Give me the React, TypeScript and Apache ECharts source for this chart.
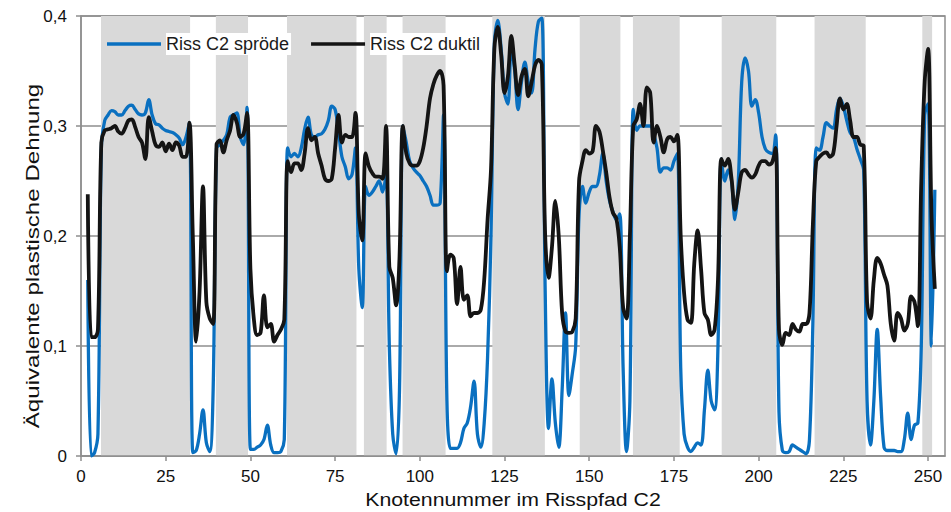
import React, { useEffect, useRef } from "react";
import * as echarts from "echarts";

const firstNode = 2;
const seriesNames = ["Riss C2 spröde", "Riss C2 duktil"];
const xTitle = "Knotennummer im Risspfad C2";
const yTitle = "Äquivalente plastische Dehnung";

// Values per node (node 2 .. 252)
const sproede = [
  0.16, 0.0, 0.003, 0.02, 0.28, 0.305, 0.31, 0.314, 0.313, 0.31,
  0.31, 0.314, 0.318, 0.319, 0.315, 0.311, 0.31, 0.312, 0.324, 0.31,
  0.302, 0.301, 0.298, 0.296, 0.295, 0.294, 0.292, 0.289, 0.283, 0.29,
  0.303, 0.003, 0.005, 0.02, 0.042, 0.012, 0.004, 0.06, 0.28, 0.283,
  0.287, 0.292, 0.308, 0.31, 0.312, 0.29, 0.283, 0.317, 0.006, 0.006,
  0.008, 0.01, 0.015, 0.028, 0.01, 0.003, 0.003, 0.004, 0.015, 0.28,
  0.272, 0.275, 0.272, 0.28, 0.297, 0.308, 0.292, 0.29, 0.292, 0.293,
  0.297, 0.305, 0.318, 0.315, 0.295, 0.272, 0.263, 0.252, 0.256, 0.28,
  0.17, 0.135, 0.245, 0.237, 0.24, 0.245, 0.25, 0.24, 0.255, 0.1,
  0.02, 0.002, 0.06, 0.3, 0.285, 0.268, 0.262, 0.258, 0.255, 0.25,
  0.245, 0.237, 0.228, 0.228, 0.23, 0.31, 0.05, 0.007, 0.007, 0.007,
  0.012, 0.025, 0.03, 0.045, 0.068, 0.02, 0.008, 0.03, 0.09, 0.2,
  0.375, 0.396, 0.37, 0.33, 0.32, 0.372, 0.35, 0.315, 0.34, 0.358,
  0.34, 0.33, 0.37, 0.395, 0.398, 0.15, 0.025, 0.07, 0.03, 0.008,
  0.06, 0.13, 0.055, 0.075, 0.1, 0.22, 0.245, 0.23, 0.24, 0.245,
  0.245, 0.255, 0.275, 0.25, 0.232, 0.222, 0.215, 0.22, 0.08, 0.004,
  0.05, 0.315, 0.296, 0.3, 0.3, 0.3, 0.3, 0.293, 0.28, 0.258,
  0.262, 0.262, 0.26, 0.268, 0.275, 0.08, 0.02, 0.008, 0.004, 0.008,
  0.012, 0.01, 0.042, 0.078, 0.05, 0.042, 0.1, 0.27, 0.25, 0.26,
  0.25, 0.215, 0.25, 0.34, 0.362, 0.35, 0.318, 0.324, 0.312, 0.29,
  0.279, 0.276, 0.275, 0.292, 0.04, 0.005, 0.003, 0.004, 0.01, 0.008,
  0.006, 0.004, 0.002, 0.015, 0.12, 0.28, 0.278, 0.29, 0.303, 0.3,
  0.298, 0.315, 0.325, 0.318, 0.305, 0.294, 0.29, 0.279, 0.27, 0.26,
  0.05, 0.01, 0.05, 0.115, 0.054, 0.008, 0.005, 0.005, 0.005, 0.004,
  0.004, 0.015, 0.039, 0.015, 0.028, 0.03, 0.1, 0.31, 0.32, 0.1,
  0.242,
];

const duktil = [
  0.238, 0.108, 0.108, 0.115, 0.285, 0.296, 0.297, 0.298, 0.3, 0.295,
  0.293, 0.298, 0.305, 0.306, 0.299, 0.29, 0.285, 0.27, 0.308, 0.295,
  0.283, 0.281, 0.285, 0.277, 0.284, 0.278, 0.285, 0.282, 0.272, 0.272,
  0.303, 0.2, 0.104, 0.15, 0.245, 0.14, 0.125, 0.12, 0.283, 0.287,
  0.276, 0.287, 0.296, 0.31, 0.303, 0.29, 0.293, 0.312, 0.17, 0.125,
  0.11, 0.112, 0.146, 0.117, 0.12, 0.104, 0.11, 0.115, 0.124, 0.268,
  0.258, 0.266, 0.266, 0.26, 0.275, 0.298, 0.287, 0.29, 0.275, 0.264,
  0.252, 0.25, 0.252, 0.28, 0.31, 0.285, 0.292, 0.29, 0.29, 0.312,
  0.22, 0.196, 0.275, 0.263, 0.257, 0.254, 0.254, 0.252, 0.3, 0.172,
  0.162, 0.137, 0.18, 0.3, 0.275, 0.266, 0.264, 0.264, 0.268, 0.28,
  0.3, 0.325, 0.338, 0.346, 0.35, 0.337, 0.168, 0.183, 0.18, 0.138,
  0.172, 0.142, 0.146, 0.127, 0.13, 0.13, 0.133, 0.16, 0.215, 0.26,
  0.37, 0.39, 0.365, 0.33, 0.345, 0.382, 0.355, 0.328, 0.345, 0.352,
  0.327, 0.34, 0.355, 0.36, 0.356, 0.2, 0.162, 0.19, 0.232, 0.2,
  0.13, 0.113, 0.112, 0.113, 0.125, 0.25, 0.268, 0.278, 0.275, 0.277,
  0.3, 0.295, 0.278, 0.258, 0.235, 0.221, 0.216, 0.19, 0.135, 0.125,
  0.2, 0.3, 0.306, 0.32, 0.3, 0.335, 0.33, 0.285, 0.3, 0.29,
  0.276, 0.288, 0.29, 0.286, 0.292, 0.2, 0.148, 0.124, 0.121, 0.175,
  0.205, 0.17, 0.13, 0.124, 0.11, 0.115, 0.16, 0.27, 0.264, 0.27,
  0.252, 0.224, 0.24, 0.258, 0.26, 0.256, 0.253, 0.256, 0.264, 0.268,
  0.268, 0.265, 0.267, 0.28, 0.115, 0.101, 0.112, 0.11, 0.12, 0.115,
  0.113, 0.12, 0.12, 0.13, 0.21, 0.268, 0.272, 0.275, 0.276, 0.272,
  0.275, 0.3, 0.325, 0.315, 0.32, 0.305, 0.29, 0.29, 0.283, 0.282,
  0.14, 0.125, 0.16, 0.18, 0.175, 0.165, 0.155, 0.12, 0.105, 0.13,
  0.125, 0.114, 0.12, 0.145, 0.14, 0.118, 0.25, 0.34, 0.37, 0.22,
  0.152,
];

// Shaded node ranges (grey bands)
const shadedRanges: [number, number][] = [
  [5.9, 32.2], [39.8, 49.3], [60.8, 81.3], [83.5, 90.2], [94.9, 107.6],
  [121.4, 136.9], [147.2, 159.2], [162.9, 176.7], [189.1, 205.2],
  [216.5, 231.6], [248.3, 251.2],
];

const FONT = '"Liberation Sans", Arial, Helvetica, sans-serif';

export default function App() {
  const ref = useRef<HTMLDivElement>(null);
  useEffect(() => {
    document.body.style.margin = "0";
    const chart = echarts.init(ref.current!, undefined, { renderer: "svg" });
    const toPairs = (vals: number[]) => vals.map((v, i) => [firstNode + i, v]);
    const option: any = {
      animation: false,
      textStyle: { fontFamily: FONT },
      grid: {
        left: 81, right: 6, top: 16, bottom: 56,
        show: true, borderColor: "#8e8e8e", borderWidth: 1.5,
        backgroundColor: "transparent",
      },
      legend: {
        left: 107, top: 33, padding: 0, itemGap: 20,
        icon: "rect", itemWidth: 54, itemHeight: 3.5,
        data: seriesNames,
        textStyle: {
          fontFamily: FONT, fontSize: 18, color: "#1a1a1a",
          backgroundColor: "#ffffff", lineHeight: 22, padding: [0, 2, 0, 0],
        },
      },
      xAxis: {
        type: "value", min: 0, max: 255, interval: 25, z: 1,
        axisLine: { lineStyle: { color: "#8e8e8e", width: 1.5 } },
        axisTick: { length: 5, lineStyle: { color: "#8e8e8e", width: 1.5 } },
        axisLabel: { fontSize: 17, color: "#111", margin: 12, fontFamily: FONT },
        splitLine: { show: false },
      },
      yAxis: {
        type: "value", min: 0, max: 0.4, interval: 0.1, z: 1,
        axisLine: { show: true, lineStyle: { color: "#8e8e8e", width: 1.5 } },
        axisTick: { show: true, length: 5, lineStyle: { color: "#8e8e8e", width: 1.5 } },
        axisLabel: {
          fontSize: 17, color: "#111", margin: 14, fontFamily: FONT,
          formatter: (v: number) => (v === 0 ? "0" : v.toFixed(1).replace(".", ",")),
        },
        splitLine: { lineStyle: { color: "#8e8e8e", width: 1.5 } },
      },
      graphic: [
        {
          type: "text", x: 513, y: 499, scaleX: 1.12, z: 10,
          style: {
            text: xTitle, font: `19px ${FONT}`, fill: "#111",
            textAlign: "center", textVerticalAlign: "middle", verticalAlign: "middle",
          },
        },
        {
          type: "text", x: 32, y: 256, rotation: Math.PI / 2, scaleX: 1.27, z: 10,
          style: {
            text: yTitle, font: `19px ${FONT}`, fill: "#111",
            textAlign: "center", textVerticalAlign: "middle", verticalAlign: "middle",
          },
        },
      ],
      series: [
        {
          name: "bands", type: "line", data: [], z: 0, silent: true,
          markArea: {
            silent: true,
            itemStyle: { color: "#d9d9d9" },
            data: shadedRanges.map(([a, b]) => [{ xAxis: a }, { xAxis: b }]),
          },
        },
        {
          name: seriesNames[0], type: "line", z: 3, smooth: 0.35, symbol: "none",
          data: toPairs(sproede),
          lineStyle: { color: "#0a70c0", width: 3.3 },
          itemStyle: { color: "#0a70c0" },
        },
        {
          name: seriesNames[1], type: "line", z: 4, smooth: 0.35, symbol: "none",
          data: toPairs(duktil),
          lineStyle: { color: "#141414", width: 3.8 },
          itemStyle: { color: "#141414" },
        },
      ],
    };
    chart.setOption(option);
    return () => chart.dispose();
  }, []);
  return <div ref={ref} style={{ width: 951, height: 512 }} />;
}
